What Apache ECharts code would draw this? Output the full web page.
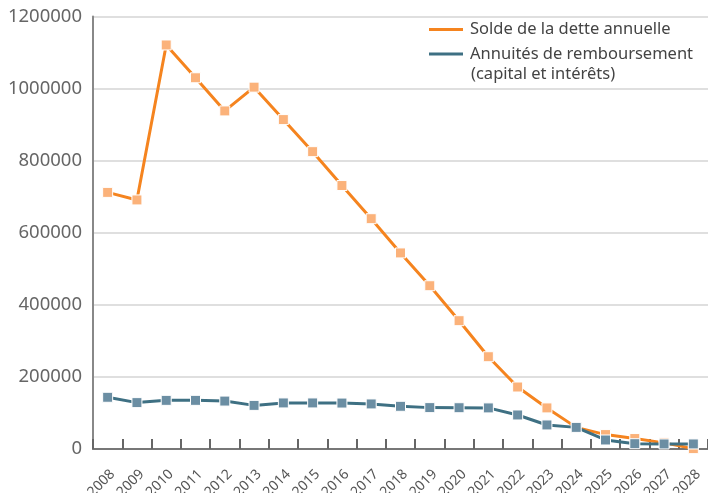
<!DOCTYPE html>
<html>
<head>
<meta charset="utf-8">
<script src="https://cdn.jsdelivr.net/npm/echarts@6/dist/echarts.min.js"></script>
<style>
  html, body { margin: 0; padding: 0; background: #fff; }
  #chart { width: 708px; height: 493px; }
</style>
</head>
<body>
<div id="chart"></div>
<script>
// années
const years = ['2008', '2009', '2010', '2011', '2012', '2013', '2014', '2015', '2016', '2017', '2018',
  '2019', '2020', '2021', '2022', '2023', '2024', '2025', '2026', '2027', '2028']

// solde de la dette annuelle
const solde = [712000, 691000, 1121000, 1030000, 938000, 1004000, 914000, 825000, 731000, 639000, 544000,
  453000, 356000, 256000, 172000, 114000, 60000, 40000, 29000, 17000, 1000]

// annuités de remboursement (capital et intérêts)
const annuites = [143500, 128700, 135000, 135000, 133000, 121000, 127800, 127800, 127500, 125000, 118500,
  114800, 114500, 114000, 94400, 66700, 60000, 25000, 14700, 14000, 14000]

const yTicks = [0, 200000, 400000, 600000, 800000, 1000000, 1200000]

const fontFamily = '"Noto Sans", sans-serif'
const orange = '#f5841f'
const blue = '#3e7083'
const chart = echarts.init(document.getElementById('chart'))

const option = {
  animation: false,
  grid: { left: 93, right: 0, top: 16.5, bottom: 44, outerBoundsMode: 'none', containLabel: false },
  legend: {
    orient: 'vertical',
    left: 424,
    top: 16,
    itemWidth: 34,
    itemHeight: 3,
    itemGap: 7.5,
    icon: 'rect',
    data: [
      { name: 'Solde de la dette annuelle', itemStyle: { color: orange, borderWidth: 0 } },
      { name: 'Annuités de remboursement', itemStyle: { color: blue, borderWidth: 0 } }
    ],
    textStyle: { fontFamily, fontSize: 16.5, color: '#444', padding: [0, 0, 0, 2] }
  },
  graphic: [{
    type: 'text',
    left: 471,
    top: 66,
    style: { text: '(capital et intérêts)', font: '16.5px ' + fontFamily, fill: '#444' }
  }],
  xAxis: {
    type: 'category',
    data: years,
    boundaryGap: true,
    axisLine: { lineStyle: { color: '#777', width: 2 } },
    axisTick: { show: true, inside: true, length: 10, interval: 0, lineStyle: { color: '#666', width: 2 } },
    axisLabel: {
      rotate: 45, interval: 0, fontFamily, fontSize: 14, color: '#555',
      margin: 18, verticalAlign: 'top'
    }
  },
  yAxis: {
    type: 'value',
    min: yTicks[0],
    max: yTicks[yTicks.length - 1],
    interval: 200000,
    axisLine: { show: true, lineStyle: { color: '#888', width: 2 } },
    axisTick: { show: false },
    axisLabel: { fontFamily, fontSize: 18.5, color: '#666', margin: 11, formatter: v => String(v) },
    splitLine: { lineStyle: { color: '#d4d4d4', width: 1.5 } }
  },
  series: [
    {
      name: 'Solde de la dette annuelle',
      type: 'line',
      data: solde,
      symbol: 'rect',
      symbolSize: 10,
      lineStyle: { color: orange, width: 3 },
      itemStyle: { color: '#fbb27a', borderColor: '#fff', borderWidth: 1 },
      z: 2
    },
    {
      name: 'Annuités de remboursement',
      type: 'line',
      data: annuites,
      symbol: 'rect',
      symbolSize: 10,
      lineStyle: { color: blue, width: 3 },
      itemStyle: { color: '#6b8ea3', borderColor: '#fff', borderWidth: 1 },
      z: 3
    }
  ]
}

chart.setOption(option)
</script>
</body>
</html>
